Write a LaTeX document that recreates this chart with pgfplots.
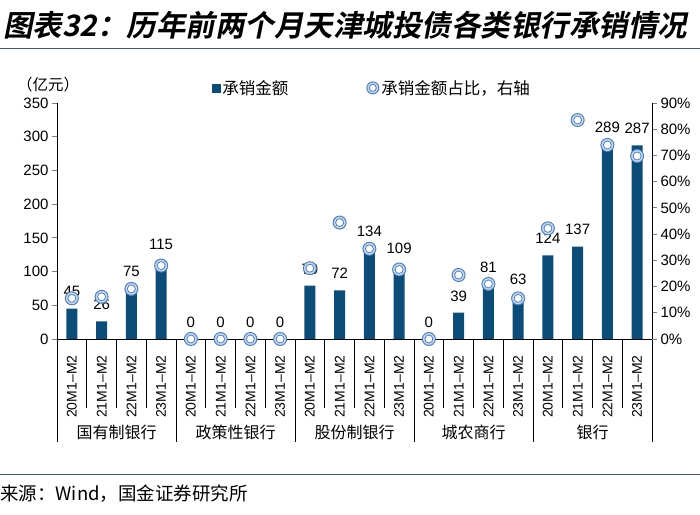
\documentclass[border=0pt]{standalone}
\usepackage{fontspec}
\setmainfont{Liberation Sans}
\newfontfamily\cjk{Noto Sans CJK SC}
\newfontfamily\cjkt[FakeSlant=0.2]{Noto Sans CJK SC Bold}
\usepackage{pgfplots}
\pgfplotsset{compat=1.18}
\definecolor{barblue}{HTML}{0B4C78}
\definecolor{cblue}{HTML}{4F81BD}
\definecolor{ringfill}{HTML}{C6D9F1}
\definecolor{rulecol}{HTML}{3B5878}
\begin{document}
\begin{tikzpicture}
\path[use as bounding box] (0,0) rectangle (700pt,514pt);
\node[anchor=west, inner sep=0pt, font=\cjkt\fontsize{29.5}{29.5}\selectfont] at (3pt,489pt) {图表32：历年前两个月天津城投债各类银行承销情况};
\draw[rulecol, line width=1pt] (0,465pt) -- (700pt,465pt);
\draw[rulecol, line width=1pt] (0,40pt) -- (700pt,40pt);
\node[anchor=west, inner sep=0pt, font=\cjk\fontsize{18.5}{18.5}\selectfont] at (0pt,20pt) {来源：Wind，国金证券研究所};
\node[font=\cjk\fontsize{15.5}{15.5}\selectfont] at (48pt,429pt) {（亿元）};
\begin{axis}[at={(57pt,175pt)}, anchor=south west, scale only axis, width=595pt, height=236pt,
 xmin=-0.5, xmax=19.5, ymin=0, ymax=350,
 axis x line*=bottom, axis y line*=left, axis line style={-, line width=0.8pt},
 ytick={0,50,...,350}, tick align=outside, major tick length=5pt,
 y tick style={line width=0.8pt},
 xtick={0,...,19},
 xticklabels={20M1--M2,21M1--M2,22M1--M2,23M1--M2,20M1--M2,21M1--M2,22M1--M2,23M1--M2,20M1--M2,21M1--M2,22M1--M2,23M1--M2,20M1--M2,21M1--M2,22M1--M2,23M1--M2,20M1--M2,21M1--M2,22M1--M2,23M1--M2},
 x tick style={draw=none},
 xticklabel style={rotate=90, anchor=east, font=\fontsize{14}{14}\selectfont},
 xticklabel shift=8pt,
 yticklabel style={font=\fontsize{15}{15}\selectfont},
 /pgf/number format/assume math mode=true,
 ybar, bar width=11pt,
 nodes near coords, nodes near coords style={font=\fontsize{15}{15}\selectfont, yshift=8pt, black},
 clip=false,
]
\addplot[fill=barblue, draw=none] coordinates {(0,45) (1,26) (2,75) (3,115) (4,0) (5,0) (6,0) (7,0) (8,79) (9,72) (10,134) (11,109) (12,0) (13,39) (14,81) (15,63) (16,124) (17,137) (18,289) (19,287)};
\pgfplotsinvokeforeach{0.5,1.5,2.5,4.5,5.5,6.5,8.5,9.5,10.5,12.5,13.5,14.5,16.5,17.5,18.5}{
 \draw[line width=0.8pt] (axis cs:#1,0) -- ++(0pt,-69pt);
}
\pgfplotsinvokeforeach{-0.5,3.5,7.5,11.5,15.5,19.5}{
 \draw[line width=0.8pt] (axis cs:#1,0) -- ++(0pt,-103pt);
}
\node[font=\cjk\fontsize{16}{16}\selectfont] at (axis cs:1.5,0) [yshift=-93pt] {国有制银行};
\node[font=\cjk\fontsize{16}{16}\selectfont] at (axis cs:5.5,0) [yshift=-93pt] {政策性银行};
\node[font=\cjk\fontsize{16}{16}\selectfont] at (axis cs:9.5,0) [yshift=-93pt] {股份制银行};
\node[font=\cjk\fontsize{16}{16}\selectfont] at (axis cs:13.5,0) [yshift=-93pt] {城农商行};
\node[font=\cjk\fontsize{16}{16}\selectfont] at (axis cs:17.5,0) [yshift=-93pt] {银行};
\end{axis}
\begin{axis}[at={(57pt,175pt)}, anchor=south west, scale only axis, width=595pt, height=236pt,
 xmin=-0.5, xmax=19.5, ymin=0, ymax=90,
 axis x line=none, axis y line*=right, axis line style={-, line width=0.8pt},
 ytick={0,10,...,90}, yticklabel={\pgfmathprintnumber{\tick}\%},
 tick align=outside, major tick length=5pt, y tick style={line width=0.8pt},
 yticklabel style={font=\fontsize{15}{15}\selectfont},
 /pgf/number format/assume math mode=true,
 clip=false,
 legend style={at={(0.255,1.064)}, anchor=west, draw=none, fill=none, legend columns=2,
   font=\cjk\fontsize{16.5}{16.5}\selectfont,
   /tikz/every even column/.append style={column sep=76pt}},
]
\addplot[only marks, mark=*, mark size=6.5pt, mark options={draw=cblue, fill=ringfill, line width=1pt}, forget plot] coordinates {(0,15.5) (1,16.1) (2,19.1) (3,28) (4,0) (5,0) (6,0) (7,0) (8,27) (9,44.4) (10,34.4) (11,26.5) (12,0) (13,24.4) (14,21) (15,15.5) (16,42.2) (17,83.5) (18,74) (19,69.8)};
\addplot[only marks, mark=*, mark size=4pt, mark options={draw=cblue, fill=white, line width=0.8pt}, forget plot] coordinates {(0,15.5) (1,16.1) (2,19.1) (3,28) (4,0) (5,0) (6,0) (7,0) (8,27) (9,44.4) (10,34.4) (11,26.5) (12,0) (13,24.4) (14,21) (15,15.5) (16,42.2) (17,83.5) (18,74) (19,69.8)};
\addlegendimage{legend image code/.code={\fill[barblue] (0pt,-4pt) rectangle (8pt,4pt);}}
\addlegendentry{承销金额}
\addlegendimage{legend image code/.code={\draw[cblue, fill=ringfill, line width=1pt] (4pt,0) circle (6pt); \draw[cblue, fill=white, line width=0.8pt] (4pt,0) circle (3.5pt);}}
\addlegendentry{承销金额占比，右轴}
\end{axis}
\end{tikzpicture}
\end{document}
